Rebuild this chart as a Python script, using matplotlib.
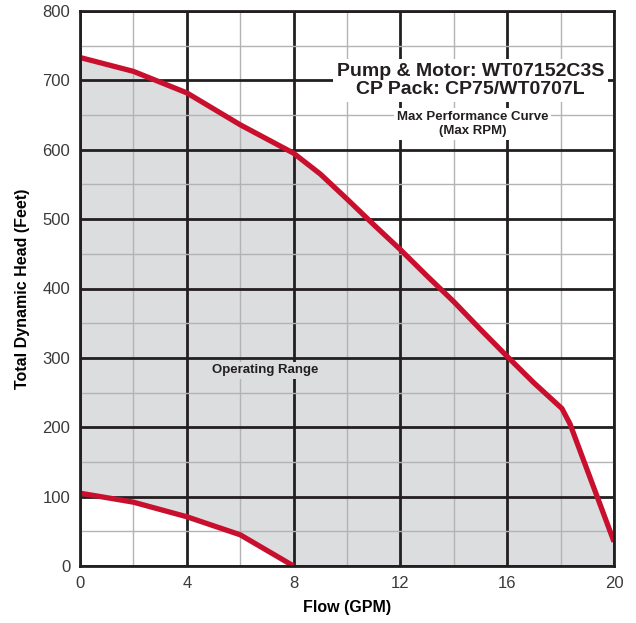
import matplotlib
matplotlib.use('Agg')
from matplotlib import pyplot as plt
import numpy as np

plt.rcParams['font.family'] = ['Liberation Sans', 'DejaVu Sans']

# max performance curve (upper) and minimum curve (lower)
upper_flow = [0, 2, 4, 6, 8, 9, 10, 11, 12, 13, 14, 15, 16, 17, 18.05, 18.35, 20]
upper_head = [733, 713, 682, 636, 595, 565, 529, 492, 456, 418, 381, 341, 302, 264, 227, 205, 35]
lower_flow = [0, 2, 4, 6, 8]
lower_head = [105, 92, 71, 45, 0]

x_ticks = [0, 4, 8, 12, 16, 20]
y_ticks = [0, 100, 200, 300, 400, 500, 600, 700, 800]

red = '#c8102e'
fill_grey = '#dcdddf'

fig = plt.figure(figsize=(6.36, 6.23), dpi=100)
ax = fig.add_axes([80/636, 57/623, 534/636, 555/623])

# shaded operating range between the two curves
xx = np.array(upper_flow, dtype=float)
low = np.interp(xx, lower_flow, lower_head, right=0)
ax.fill_between(xx, low, upper_head, color=fill_grey, lw=0, zorder=1)

ax.plot(upper_flow, upper_head, color=red, lw=3.8, zorder=4, solid_capstyle='butt')
ax.plot(lower_flow, lower_head, color=red, lw=3.8, zorder=4, solid_capstyle='butt')

ax.set_xlim(0, 20)
ax.set_ylim(0, 800)
ax.set_xticks(x_ticks)
ax.set_yticks(y_ticks)
ax.set_xticks(np.arange(0, 21, 2), minor=True)
ax.set_yticks(np.arange(0, 801, 50), minor=True)
ax.grid(which='minor', color='#b3b3b3', lw=1.0, zorder=2)
ax.grid(which='major', color='#231f20', lw=2.0, zorder=2.5)
ax.set_axisbelow(False)
ax.tick_params(which='both', length=0)
ax.tick_params(axis='y', pad=7, labelsize=12, labelcolor='#3a3a3a')
ax.tick_params(axis='x', pad=7, labelsize=12, labelcolor='#3a3a3a')
for s in ax.spines.values():
    s.set_linewidth(2.0)
    s.set_color('#231f20')
    s.set_zorder(5)

ax.set_xlabel('Flow (GPM)', fontsize=11.5, fontweight='bold', labelpad=7)
ax.set_ylabel('Total Dynamic Head (Feet)', fontsize=11.5, fontweight='bold', labelpad=9)

ax.text(14.62, 700, 'Pump & Motor: WT07152C3S\nCP Pack: CP75/WT0707L',
        ha='center', va='center', fontsize=14, fontweight='bold', color='#231f20',
        linespacing=1.05, zorder=6,
        bbox=dict(facecolor='white', edgecolor='none', pad=3))
ax.text(14.7, 637, 'Max Performance Curve\n(Max RPM)',
        ha='center', va='center', fontsize=9.5, fontweight='bold', color='#231f20',
        linespacing=1.2, zorder=6,
        bbox=dict(facecolor='white', edgecolor='none', pad=2))
ax.text(6.93, 282, 'Operating Range',
        ha='center', va='center', fontsize=9.5, fontweight='bold', color='#231f20',
        zorder=6, bbox=dict(facecolor=fill_grey, edgecolor='none', pad=2))

fig.savefig('out.png', dpi=100)
